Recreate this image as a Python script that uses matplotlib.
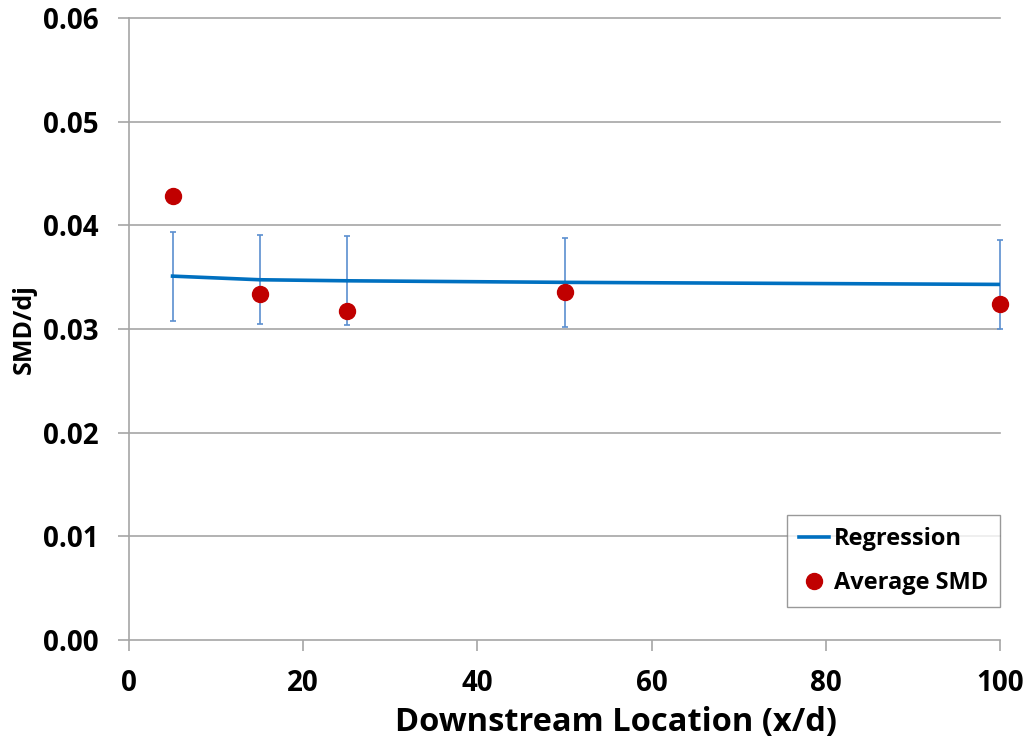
import matplotlib
matplotlib.use("Agg")
import matplotlib.pyplot as plt

# Downstream locations (x/d)
locations = [5, 15, 25, 50, 100]
# Measured average SMD normalised by jet diameter
avg_smd = [0.0428, 0.0334, 0.0317, 0.0336, 0.0324]
# Regression fit at the same locations
regression = [0.0351, 0.03475, 0.03465, 0.0345, 0.0343]
# Error band half-widths on the regression
reg_err = [0.0043, 0.0043, 0.0043, 0.0043, 0.0043]

x_ticks = [0, 20, 40, 60, 80, 100]
y_ticks = [0.00, 0.01, 0.02, 0.03, 0.04, 0.05, 0.06]

plt.rcParams["font.family"] = ["Open Sans", "DejaVu Sans"]
plt.rcParams["font.weight"] = "bold"

fig = plt.figure(figsize=(10.31, 7.44), dpi=100)
ax = fig.add_axes([0.1251, 0.1398, 0.8449, 0.836])

grid_col = "#A6A6A6"
ax.set_xlim(0, 100)
ax.set_ylim(0, 0.06)
ax.set_yticks(y_ticks)
ax.set_yticklabels([f"{v:.2f}" for v in y_ticks])
ax.set_xticks(x_ticks)
ax.set_xticklabels([str(v) for v in x_ticks])

# horizontal gridlines, drawn unclipped so the edge lines keep full width
for yv in y_ticks:
    ax.axhline(yv, color=grid_col, linewidth=1.2, zorder=0, clip_on=False)

for side in ("top", "right", "bottom"):
    ax.spines[side].set_visible(False)
ax.spines["left"].set_color(grid_col)
ax.spines["left"].set_linewidth(1.2)
ax.tick_params(axis="both", colors=grid_col, labelcolor="black",
               labelsize=20, length=8, width=1.2)
ax.tick_params(axis="x", pad=13)
ax.tick_params(axis="y", pad=14)
for lbl in ax.get_xticklabels() + ax.get_yticklabels():
    lbl.set_fontweight("bold")

ax.errorbar(locations, regression, yerr=reg_err, fmt="none",
            ecolor="#5B8FCF", elinewidth=1.2, capsize=2.4, capthick=1.2,
            zorder=2, clip_on=False)
ax.plot(locations, regression, color="#0070C0", linewidth=2.6,
        label="Regression", zorder=3)
ax.plot(locations, avg_smd, linestyle="none", marker="o", markersize=11.5,
        color="#C00000", label="Average SMD", zorder=4, clip_on=False)

ax.set_xlabel("Downstream Location (x/d)", fontsize=23.5, fontweight="bold",
              va="center")
ax.xaxis.set_label_coords(0.559, -0.1334)
ax.set_ylabel("SMD/dj", fontsize=18, fontweight="bold", labelpad=4)

leg = ax.legend(loc="lower right", bbox_to_anchor=(1.0, 0.053), fontsize=17,
                frameon=True, fancybox=False, edgecolor="#808080",
                handlelength=1.3, handletextpad=0.2, borderpad=0.5,
                labelspacing=0.85, borderaxespad=0.0)
leg.get_frame().set_linewidth(1.0)
for t in leg.get_texts():
    t.set_fontweight("bold")

fig.savefig("out.png", dpi=100)
